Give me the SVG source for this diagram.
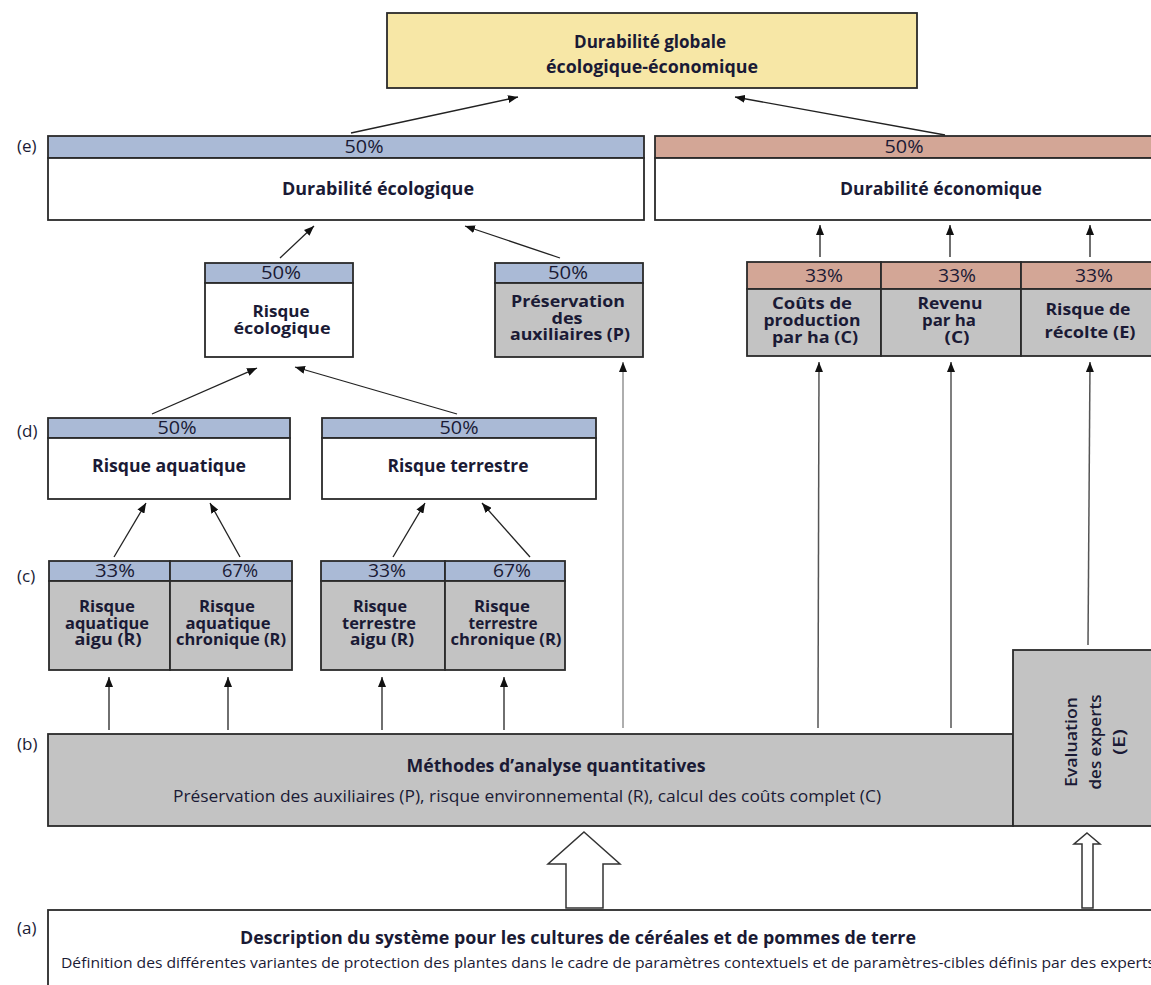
<svg xmlns="http://www.w3.org/2000/svg" width="1151" height="985" viewBox="0 0 1151 985">
<style>
  .bx{stroke:#2a2a2a;stroke-width:1.8}
  .yel{fill:#f7e7a6}
  .blu{fill:#aabad6}
  .pnk{fill:#d3a696}
  .gry{fill:#c3c3c3}
  .wht{fill:#ffffff}
  text{font-family:"Open Sans","Liberation Sans",sans-serif;fill:#1a1a35}
  .t{font-weight:700;font-size:16px;text-anchor:middle}
  .h{font-weight:700;font-size:18px;text-anchor:middle}
  .p{font-weight:400;font-size:18px;text-anchor:middle}
  .e{font-weight:600;font-size:17px;text-anchor:middle}
  .r{font-weight:400;font-size:16px;text-anchor:middle}
  .lab{font-weight:400;font-size:17px}
  .cn{stroke:#222;stroke-width:1.3;fill:none}
  .cg{stroke:#9a9a9a;stroke-width:1.6;fill:none}
  .cm{stroke:#555;stroke-width:1.5;fill:none}
  .ha{fill:#ffffff;stroke:#333;stroke-width:1.5}
</style>
<defs>
  <marker id="ah" viewBox="0 0 10 8" refX="10" refY="4" markerWidth="10" markerHeight="8" markerUnits="userSpaceOnUse" orient="auto">
    <path d="M0,0 L10,4 L0,8 z" fill="#111"/>
  </marker>
</defs>

<g id="level-labels">
  <text class="lab" x="17" y="152">(e)</text>
  <text class="lab" x="17" y="437">(d)</text>
  <text class="lab" x="17" y="582">(c)</text>
  <text class="lab" x="17" y="750">(b)</text>
  <text class="lab" x="17" y="934">(a)</text>
</g>

<g id="node-global">
  <rect class="bx yel" x="387" y="13" width="530" height="75"/>
  <text class="h" x="650" y="48" textLength="152" lengthAdjust="spacingAndGlyphs">Durabilité globale</text>
  <text class="h" x="652" y="73" textLength="212" lengthAdjust="spacingAndGlyphs">écologique-économique</text>
</g>

<g id="node-durabilite-ecologique">
  <rect class="bx blu" x="48" y="136" width="596" height="22"/>
  <rect class="bx wht" x="48" y="158" width="596" height="62"/>
  <text class="p" x="364" y="153" textLength="39" lengthAdjust="spacingAndGlyphs">50%</text>
  <text class="h" x="378" y="195" textLength="192" lengthAdjust="spacingAndGlyphs">Durabilité écologique</text>
</g>

<g id="node-durabilite-economique">
  <rect class="bx pnk" x="655" y="136" width="510" height="22"/>
  <rect class="bx wht" x="655" y="158" width="510" height="62"/>
  <text class="p" x="904" y="153" textLength="39" lengthAdjust="spacingAndGlyphs">50%</text>
  <text class="h" x="941" y="195" textLength="202" lengthAdjust="spacingAndGlyphs">Durabilité économique</text>
</g>

<g id="node-risque-ecologique">
  <rect class="bx blu" x="205" y="263" width="148" height="20"/>
  <rect class="bx wht" x="205" y="283" width="148" height="74"/>
  <text class="p" x="281" y="279" textLength="40" lengthAdjust="spacingAndGlyphs">50%</text>
  <text class="t" x="281" y="317" textLength="57" lengthAdjust="spacingAndGlyphs">Risque</text>
  <text class="t" x="282" y="334" textLength="97" lengthAdjust="spacingAndGlyphs">écologique</text>
</g>

<g id="node-preservation">
  <rect class="bx blu" x="495" y="263" width="148" height="20"/>
  <rect class="bx gry" x="495" y="283" width="148" height="74"/>
  <text class="p" x="568" y="279" textLength="40" lengthAdjust="spacingAndGlyphs">50%</text>
  <text class="t" x="568" y="307" textLength="114" lengthAdjust="spacingAndGlyphs">Préservation</text>
  <text class="t" x="567" y="323.5" textLength="31" lengthAdjust="spacingAndGlyphs">des</text>
  <text class="t" x="570" y="340" textLength="120" lengthAdjust="spacingAndGlyphs">auxiliaires (P)</text>
</g>

<g id="node-couts-production">
  <rect class="bx pnk" x="747" y="262" width="134" height="27"/>
  <rect class="bx gry" x="747" y="289" width="134" height="67"/>
  <text class="p" x="824" y="282" textLength="38" lengthAdjust="spacingAndGlyphs">33%</text>
  <text class="t" x="812" y="309" textLength="80" lengthAdjust="spacingAndGlyphs">Coûts de</text>
  <text class="t" x="812" y="326" textLength="97" lengthAdjust="spacingAndGlyphs">production</text>
  <text class="t" x="815" y="343" textLength="86" lengthAdjust="spacingAndGlyphs">par ha (C)</text>
</g>

<g id="node-revenu">
  <rect class="bx pnk" x="881" y="262" width="140" height="27"/>
  <rect class="bx gry" x="881" y="289" width="140" height="67"/>
  <text class="p" x="957" y="282" textLength="38" lengthAdjust="spacingAndGlyphs">33%</text>
  <text class="t" x="950" y="309" textLength="65" lengthAdjust="spacingAndGlyphs">Revenu</text>
  <text class="t" x="949" y="326" textLength="54" lengthAdjust="spacingAndGlyphs">par ha</text>
  <text class="t" x="957" y="343" textLength="25" lengthAdjust="spacingAndGlyphs">(C)</text>
</g>

<g id="node-risque-recolte">
  <rect class="bx pnk" x="1021" y="262" width="145" height="27"/>
  <rect class="bx gry" x="1021" y="289" width="145" height="67"/>
  <text class="p" x="1094" y="282" textLength="38" lengthAdjust="spacingAndGlyphs">33%</text>
  <text class="t" x="1088" y="315" textLength="85" lengthAdjust="spacingAndGlyphs">Risque de</text>
  <text class="t" x="1090" y="338" textLength="91" lengthAdjust="spacingAndGlyphs">récolte (E)</text>
</g>

<g id="node-risque-aquatique">
  <rect class="bx blu" x="48" y="418" width="242" height="20"/>
  <rect class="bx wht" x="48" y="438" width="242" height="61"/>
  <text class="p" x="177" y="434" textLength="39" lengthAdjust="spacingAndGlyphs">50%</text>
  <text class="h" x="169" y="472" textLength="154" lengthAdjust="spacingAndGlyphs" style="font-size:17px">Risque aquatique</text>
</g>

<g id="node-risque-terrestre">
  <rect class="bx blu" x="322" y="418" width="274" height="20"/>
  <rect class="bx wht" x="322" y="438" width="274" height="61"/>
  <text class="p" x="459" y="434" textLength="39" lengthAdjust="spacingAndGlyphs">50%</text>
  <text class="h" x="458" y="472" textLength="141" lengthAdjust="spacingAndGlyphs" style="font-size:17px">Risque terrestre</text>
</g>

<g id="node-aquatique-aigu">
  <rect class="bx blu" x="49" y="561" width="121" height="20"/>
  <rect class="bx gry" x="49" y="581" width="121" height="89"/>
  <text class="p" x="115" y="577" textLength="40" lengthAdjust="spacingAndGlyphs">33%</text>
  <text class="t" x="107" y="612" textLength="56" lengthAdjust="spacingAndGlyphs">Risque</text>
  <text class="t" x="107" y="628.5" textLength="84" lengthAdjust="spacingAndGlyphs">aquatique</text>
  <text class="t" x="108" y="645" textLength="67" lengthAdjust="spacingAndGlyphs">aigu (R)</text>
</g>

<g id="node-aquatique-chronique">
  <rect class="bx blu" x="170" y="561" width="122" height="20"/>
  <rect class="bx gry" x="170" y="581" width="122" height="89"/>
  <text class="p" x="240" y="577" textLength="36" lengthAdjust="spacingAndGlyphs">67%</text>
  <text class="t" x="227" y="612" textLength="56" lengthAdjust="spacingAndGlyphs">Risque</text>
  <text class="t" x="228" y="628.5" textLength="85" lengthAdjust="spacingAndGlyphs">aquatique</text>
  <text class="t" x="231" y="645" textLength="110" lengthAdjust="spacingAndGlyphs">chronique (R)</text>
</g>

<g id="node-terrestre-aigu">
  <rect class="bx blu" x="321" y="561" width="124" height="20"/>
  <rect class="bx gry" x="321" y="581" width="124" height="89"/>
  <text class="p" x="387" y="577" textLength="38" lengthAdjust="spacingAndGlyphs">33%</text>
  <text class="t" x="380" y="612" textLength="54" lengthAdjust="spacingAndGlyphs">Risque</text>
  <text class="t" x="379" y="628.5" textLength="74" lengthAdjust="spacingAndGlyphs">terrestre</text>
  <text class="t" x="382" y="645" textLength="64" lengthAdjust="spacingAndGlyphs">aigu (R)</text>
</g>

<g id="node-terrestre-chronique">
  <rect class="bx blu" x="445" y="561" width="120" height="20"/>
  <rect class="bx gry" x="445" y="581" width="120" height="89"/>
  <text class="p" x="512" y="577" textLength="38" lengthAdjust="spacingAndGlyphs">67%</text>
  <text class="t" x="502" y="612" textLength="56" lengthAdjust="spacingAndGlyphs">Risque</text>
  <text class="t" x="503" y="628.5" textLength="69" lengthAdjust="spacingAndGlyphs">terrestre</text>
  <text class="t" x="506" y="645" textLength="111" lengthAdjust="spacingAndGlyphs">chronique (R)</text>
</g>

<g id="node-methodes">
  <rect class="bx gry" x="48" y="734" width="965" height="92"/>
  <text class="h" x="556" y="772" textLength="299" lengthAdjust="spacingAndGlyphs">Méthodes d’analyse quantitatives</text>
  <text class="r" x="527" y="802" textLength="708" lengthAdjust="spacingAndGlyphs">Préservation des auxiliaires (P), risque environnemental (R), calcul des coûts complet (C)</text>
</g>

<g id="node-evaluation">
  <rect class="bx gry" x="1013" y="650" width="150" height="176"/>
  <text class="e" transform="translate(1077,742) rotate(-90)" x="0" y="0" textLength="90" lengthAdjust="spacingAndGlyphs">Evaluation</text>
  <text class="e" transform="translate(1101,742) rotate(-90)" x="0" y="0" textLength="95" lengthAdjust="spacingAndGlyphs">des experts</text>
  <text class="e" transform="translate(1125,742) rotate(-90)" x="0" y="0" textLength="26" lengthAdjust="spacingAndGlyphs">(E)</text>
</g>

<g id="node-description">
  <rect class="bx wht" x="48" y="910" width="1115" height="100"/>
  <text class="h" x="578" y="944" textLength="676" lengthAdjust="spacingAndGlyphs">Description du système pour les cultures de céréales et de pommes de terre</text>
  <text class="r" x="608" y="968" textLength="1094" lengthAdjust="spacingAndGlyphs" style="font-size:15px">Définition des différentes variantes de protection des plantes dans le cadre de paramètres contextuels et de paramètres-cibles définis par des experts</text>
</g>

<g id="connectors">
  <line class="cn" x1="351" y1="133" x2="518" y2="97" marker-end="url(#ah)"/>
  <line class="cn" x1="945" y1="135" x2="735" y2="97" marker-end="url(#ah)"/>
  <line class="cn" x1="280" y1="258" x2="314" y2="226" marker-end="url(#ah)"/>
  <line class="cn" x1="560" y1="258" x2="465" y2="226" marker-end="url(#ah)"/>
  <line class="cn" x1="820" y1="257" x2="820" y2="225" marker-end="url(#ah)"/>
  <line class="cn" x1="950" y1="257" x2="950" y2="225" marker-end="url(#ah)"/>
  <line class="cn" x1="1090" y1="257" x2="1090" y2="225" marker-end="url(#ah)"/>
  <line class="cn" x1="152" y1="414" x2="257" y2="368" marker-end="url(#ah)"/>
  <line class="cn" x1="457" y1="414" x2="295" y2="367" marker-end="url(#ah)"/>
  <line class="cn" x1="114" y1="557" x2="146" y2="503" marker-end="url(#ah)"/>
  <line class="cn" x1="240" y1="557" x2="210" y2="503" marker-end="url(#ah)"/>
  <line class="cn" x1="393" y1="557" x2="425" y2="503" marker-end="url(#ah)"/>
  <line class="cn" x1="530" y1="557" x2="482" y2="503" marker-end="url(#ah)"/>
  <line class="cn" x1="109" y1="730" x2="109" y2="677" marker-end="url(#ah)"/>
  <line class="cn" x1="228" y1="730" x2="228" y2="677" marker-end="url(#ah)"/>
  <line class="cn" x1="382" y1="730" x2="382" y2="677" marker-end="url(#ah)"/>
  <line class="cn" x1="504" y1="730" x2="504" y2="677" marker-end="url(#ah)"/>
  <line class="cg" x1="623" y1="728" x2="623" y2="362" marker-end="url(#ah)"/>
  <line class="cm" x1="818" y1="728" x2="819" y2="362" marker-end="url(#ah)"/>
  <line class="cm" x1="951" y1="728" x2="951" y2="362" marker-end="url(#ah)"/>
  <line class="cm" x1="1088" y1="645" x2="1090" y2="362" marker-end="url(#ah)"/>
  <polygon class="ha" points="584,832 620,864 603,864 603,908 566,908 566,864 548,864"/>
  <polygon class="ha" points="1087,833 1100,844 1093,844 1093,908 1082,908 1082,844 1074,844"/>
</g>
</svg>
